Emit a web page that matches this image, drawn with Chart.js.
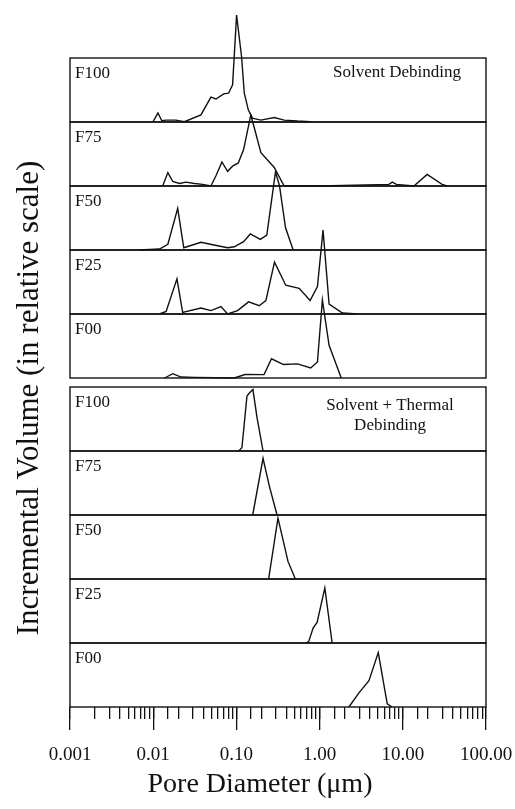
<!DOCTYPE html>
<html>
<head>
<meta charset="utf-8">
<title>Pore size distribution</title>
<script src="https://cdn.jsdelivr.net/npm/chart.js@4.4.1/dist/chart.umd.min.js"></script>
<style>
  html, body { margin: 0; padding: 0; background: #fff; }
  #wrap { width: 515px; height: 809px; }
</style>
</head>
<body>
<div id="wrap"><canvas id="chart" width="515" height="809"></canvas></div>
<script>
// x axis: pore diameter (um), log scale
const decadeValues = [0.001, 0.01, 0.1, 1, 10, 100];
const decadeLabels = ['0.001', '0.01', '0.10', '1.00', '10.00', '100.00'];

const panelLabels = ['F100', 'F75', 'F50', 'F25', 'F00'];
const groupNotes = [['Solvent Debinding'], ['Solvent + Thermal', 'Debinding']];
const xTitle = 'Pore Diameter (\u03bcm)';
const yTitle = 'Incremental Volume (in relative scale)';

// Solvent debinding (top group) - relative incremental volume
const solventF100Dia = [0.0099, 0.0114, 0.0127, 0.0143, 0.0187, 0.0237, 0.0375, 0.0494, 0.0568, 0.0703, 0.0806, 0.090, 0.1005, 0.1154, 0.1244, 0.139, 0.156, 0.197, 0.285, 0.375, 0.542, 0.776];
const solventF100Vol = [0, 0.14, 0.02, 0.03, 0.03, 0.005, 0.11, 0.39, 0.36, 0.44, 0.45, 0.58, 1.67, 1.02, 0.45, 0.19, 0.06, 0.03, 0.07, 0.03, 0.015, 0.005];

const solventF75Dia = [0.0130, 0.0150, 0.0172, 0.0207, 0.0248, 0.0313, 0.0393, 0.0494, 0.0568, 0.067, 0.0784, 0.090, 0.1054, 0.122, 0.149, 0.164, 0.197, 0.285, 0.375, 1.0, 6.81, 7.46, 8.40, 13.6, 19.6, 29.7, 34.1];
const solventF75Vol = [0, 0.21, 0.07, 0.04, 0.06, 0.04, 0.025, 0, 0.16, 0.375, 0.23, 0.31, 0.36, 0.57, 1.11, 0.91, 0.52, 0.29, 0, 0, 0.025, 0.06, 0.025, 0, 0.18, 0.025, 0];

const solventF50Dia = [0.00685, 0.0119, 0.0150, 0.0197, 0.0233, 0.0375, 0.0595, 0.0784, 0.0944, 0.122, 0.147, 0.194, 0.232, 0.295, 0.330, 0.389, 0.481];
const solventF50Vol = [0, 0.015, 0.09, 0.65, 0.035, 0.12, 0.067, 0.035, 0.05, 0.13, 0.25, 0.165, 0.234, 1.22, 1.0, 0.35, 0];

const solventF25Dia = [0.0119, 0.0143, 0.0193, 0.0226, 0.0375, 0.0494, 0.0652, 0.0784, 0.1033, 0.140, 0.188, 0.226, 0.287, 0.392, 0.568, 0.769, 0.942, 1.10, 1.30, 1.88, 2.84];
const solventF25Vol = [0, 0.04, 0.55, 0.025, 0.094, 0.053, 0.116, 0, 0.053, 0.19, 0.13, 0.21, 0.81, 0.45, 0.40, 0.21, 0.43, 1.31, 0.156, 0.015, 0];

const solventF00Dia = [0.0137, 0.0172, 0.0216, 0.0313, 0.0944, 0.127, 0.215, 0.264, 0.368, 0.542, 0.782, 0.942, 1.08, 1.30, 1.82];
const solventF00Vol = [0, 0.067, 0.015, 0.01, 0, 0.055, 0.053, 0.30, 0.21, 0.22, 0.156, 0.25, 1.22, 0.51, 0];

// Solvent + thermal debinding (bottom group)
const thermalF100Dia = [0.1063, 0.1165, 0.134, 0.144, 0.158, 0.177, 0.209];
const thermalF100Vol = [0, 0.05, 0.86, 0.91, 0.96, 0.52, 0];

const thermalF75Dia = [0.157, 0.209, 0.248, 0.308];
const thermalF75Vol = [0, 0.885, 0.46, 0];

const thermalF50Dia = [0.244, 0.316, 0.417, 0.511];
const thermalF50Vol = [0, 0.95, 0.275, 0];

const thermalF25Dia = [0.688, 0.741, 0.835, 0.933, 1.156, 1.415];
const thermalF25Vol = [0, 0.025, 0.234, 0.32, 0.86, 0];

const thermalF00Dia = [2.25, 2.97, 3.92, 5.07, 6.50, 7.47];
const thermalF00Vol = [0, 0.22, 0.41, 0.85, 0.05, 0];

const serif = "'Liberation Serif', 'DejaVu Serif', serif";
const ink = '#111';

// panel order top to bottom, one y axis each
const panels = [
  { id: 's100', dia: solventF100Dia, vol: solventF100Vol, label: panelLabels[0] },
  { id: 's75', dia: solventF75Dia, vol: solventF75Vol, label: panelLabels[1] },
  { id: 's50', dia: solventF50Dia, vol: solventF50Vol, label: panelLabels[2] },
  { id: 's25', dia: solventF25Dia, vol: solventF25Vol, label: panelLabels[3] },
  { id: 's00', dia: solventF00Dia, vol: solventF00Vol, label: panelLabels[4] },
  { id: 't100', dia: thermalF100Dia, vol: thermalF100Vol, label: panelLabels[0] },
  { id: 't75', dia: thermalF75Dia, vol: thermalF75Vol, label: panelLabels[1] },
  { id: 't50', dia: thermalF50Dia, vol: thermalF50Vol, label: panelLabels[2] },
  { id: 't25', dia: thermalF25Dia, vol: thermalF25Vol, label: panelLabels[3] },
  { id: 't00', dia: thermalF00Dia, vol: thermalF00Vol, label: panelLabels[4] }
];

function decadeIndex(v) {
  return decadeValues.findIndex(d => Math.abs(Math.log10(v) - Math.log10(d)) < 1e-6);
}

// build stacked y axes (higher weight = higher up), with a thin gap between the groups
const scales = {};
let w = 20;
panels.forEach((p, i) => {
  if (i === 5) {
    scales.gap = { type: 'linear', display: false, min: 0, max: 1, stack: 'v', stackWeight: 9, position: 'left', weight: w-- };
  }
  scales[p.id] = {
    type: 'linear', display: false, min: 0, max: 1,
    stack: 'v', stackWeight: 64, position: 'left', weight: w--
  };
});

scales.x = {
  type: 'logarithmic', position: 'bottom', weight: 1,
  min: decadeValues[0], max: decadeValues[decadeValues.length - 1],
  border: { display: false },
  grid: { drawOnChartArea: false, tickLength: 12, color: ink, lineWidth: 1.3 },
  ticks: {
    autoSkip: false, maxRotation: 0, padding: 25, color: ink,
    font: { family: serif, size: 19 },
    callback: v => { const i = decadeIndex(v); return i < 0 ? '' : decadeLabels[i]; }
  },
  // the label padding should not eat into the plot width
  afterFit: s => { s.height = 102; s.paddingLeft = 0; s.paddingRight = 0; }
};

// long ticks at the decades
scales.xMajor = {
  type: 'logarithmic', position: 'bottom', weight: 0,
  min: decadeValues[0], max: decadeValues[decadeValues.length - 1],
  border: { display: false },
  grid: { drawOnChartArea: false, tickLength: 23, color: ink, lineWidth: 1.3 },
  ticks: { display: false },
  afterBuildTicks: s => { s.ticks = s.ticks.filter(t => decadeIndex(t.value) >= 0); },
  afterFit: s => { s.height = 0; s.paddingLeft = 0; s.paddingRight = 0; }
};

const panelDecor = {
  id: 'panelDecor',
  beforeDatasetsDraw(chart) {
    const { ctx, chartArea } = chart;
    ctx.save();
    ctx.strokeStyle = ink;
    ctx.lineWidth = 1.4;
    panels.forEach(p => {
      const s = chart.scales[p.id];
      ctx.strokeRect(chartArea.left, s.top, chartArea.right - chartArea.left, s.bottom - s.top);
    });
    ctx.restore();
  },
  afterDraw(chart) {
    const { ctx, chartArea } = chart;
    ctx.save();
    ctx.fillStyle = ink;
    ctx.textBaseline = 'middle';
    ctx.font = '17px ' + serif;
    ctx.textAlign = 'left';
    panels.forEach(p => {
      ctx.fillText(p.label, chartArea.left + 5, chart.scales[p.id].top + 16);
    });
    ctx.textAlign = 'center';
    const topNote = chart.scales.s100.top + 15;
    groupNotes[0].forEach((t, i) => ctx.fillText(t, chartArea.right - 89, topNote + i * 20));
    const botNote = chart.scales.t100.top + 19;
    groupNotes[1].forEach((t, i) => ctx.fillText(t, chartArea.right - 96, botNote + i * 20));

    // axis titles
    ctx.font = '28px ' + serif;
    ctx.fillText(xTitle, 260, 785);
    ctx.translate(30, 398);
    ctx.rotate(-Math.PI / 2);
    ctx.font = '31px ' + serif;
    ctx.fillText(yTitle, 0, 0);
    ctx.restore();
  }
};

new Chart(document.getElementById('chart'), {
  type: 'line',
  data: {
    datasets: panels.map(p => ({
      label: p.id,
      yAxisID: p.id,
      data: p.dia.map((d, i) => ({ x: d, y: p.vol[i] })),
      borderColor: ink,
      borderWidth: 1.4,
      pointRadius: 0,
      tension: 0,
      fill: false,
      clip: false
    }))
  },
  options: {
    responsive: false,
    animation: false,
    layout: { padding: { left: 70, right: 29, top: 58, bottom: 0 } },
    plugins: { legend: { display: false }, tooltip: { enabled: false } },
    scales: scales
  },
  plugins: [panelDecor]
});
</script>
</body>
</html>
